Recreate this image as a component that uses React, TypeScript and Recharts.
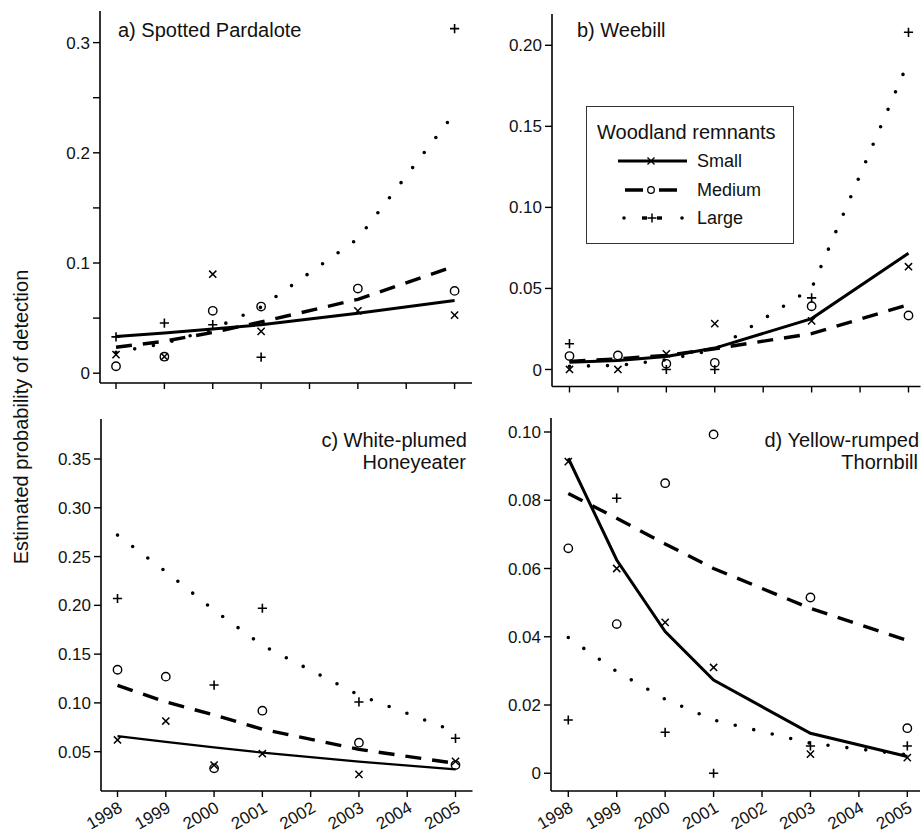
import { ComposedChart, Line, XAxis, YAxis } from "recharts";

// Four panels of detection probability by survey year, fitted lines + observed points.

const FONT = "'Liberation Sans', Arial, Helvetica, sans-serif";

const years = [1998, 1999, 2000, 2001, 2003, 2005];
const tickYears = [1998, 1999, 2000, 2001, 2002, 2003, 2004, 2005];

// a) Spotted Pardalote
const aSmallFit = [0.0334, 0.0365, 0.04, 0.044, 0.0545, 0.066];
const aMediumFit = [0.0235, 0.029, 0.037, 0.0465, 0.067, 0.097];
const aLargeFit = [0.019, 0.027, 0.04, 0.06, 0.122, 0.236];
const aSmallObs = [0.0169, 0.015, 0.0898, 0.038, 0.0566, 0.0527];
const aMediumObs = [0.0063, 0.015, 0.0566, 0.0605, 0.0768, 0.0747];
const aLargeObs = [0.033, 0.0455, 0.044, 0.0145, null, 0.3127];
const aYTicks = [0, 0.05, 0.1, 0.15, 0.2, 0.25, 0.3];
const aYLabels = ["0", "", "0.1", "", "0.2", "", "0.3"];

// b) Weebill
const bSmallFit = [0.0045, 0.0056, 0.008, 0.0132, 0.0314, 0.0717];
const bMediumFit = [0.005, 0.0066, 0.0087, 0.0128, 0.0221, 0.04];
const bLargeFit = [0.002, 0.0025, 0.006, 0.0122, 0.05, 0.19];
const bSmallObs = [0, 0, 0.0097, 0.0283, 0.03, 0.0634];
const bMediumObs = [0.0083, 0.0087, 0.0035, 0.0041, 0.039, 0.0333];
const bLargeObs = [0.0159, null, 0, 0, 0.0442, 0.208];
const bYTicks = [0, 0.05, 0.1, 0.15, 0.2];
const bYLabels = ["0", "0.05", "0.10", "0.15", "0.20"];

// c) White-plumed Honeyeater
const cSmallFit = [0.066, 0.06, 0.0544, 0.049, 0.0398, 0.0319];
const cMediumFit = [0.118, 0.101, 0.0876, 0.073, 0.0524, 0.038];
const cLargeFit = [0.272, 0.2345, 0.195, 0.159, 0.108, 0.0705];
const cSmallObs = [0.062, 0.0814, 0.0363, 0.0479, 0.0268, 0.04];
const cMediumObs = [0.134, 0.1269, 0.0329, 0.092, 0.0592, 0.0363];
const cLargeObs = [0.207, null, 0.1183, 0.197, 0.101, 0.0637];
const cYTicks = [0.05, 0.1, 0.15, 0.2, 0.25, 0.3, 0.35];
const cYLabels = ["0.05", "0.10", "0.15", "0.20", "0.25", "0.30", "0.35"];

// d) Yellow-rumped Thornbill
const dSmallFit = [0.0923, 0.0625, 0.0415, 0.0273, 0.0117, 0.0049];
const dMediumFit = [0.082, 0.0747, 0.0672, 0.06, 0.0483, 0.0389];
const dLargeFit = [0.0398, 0.0298, 0.0217, 0.0156, 0.0088, 0.0054];
const dSmallObs = [0.0913, 0.06, 0.0442, 0.031, 0.0056, 0.0046];
const dMediumObs = [0.0659, 0.0437, 0.085, 0.0993, 0.0515, 0.0132];
const dLargeObs = [0.0156, 0.0806, 0.012, 0, 0.008, 0.008];
const dYTicks = [0, 0.02, 0.04, 0.06, 0.08, 0.1];
const dYLabels = ["0", "0.02", "0.04", "0.06", "0.08", "0.10"];

const buildRows = (
  sf: number[], mf: number[], lf: number[],
  so: (number | null)[], mo: (number | null)[], lo: (number | null)[]
) =>
  years.map((year, i) => ({
    year,
    smallFit: sf[i],
    mediumFit: mf[i],
    largeFit: lf[i],
    smallObs: so[i],
    mediumObs: mo[i],
    largeObs: lo[i],
  }));

const crossDot = (props: any) => {
  const { cx, cy, value, index } = props;
  if (value == null || cx == null || cy == null) return <g key={`x${index}`} />;
  const s = 3.6;
  return (
    <path
      key={`x${index}`}
      d={`M${cx - s},${cy - s}L${cx + s},${cy + s}M${cx - s},${cy + s}L${cx + s},${cy - s}`}
      stroke="#000"
      strokeWidth={1.5}
      fill="none"
    />
  );
};

const circleDot = (props: any) => {
  const { cx, cy, value, index } = props;
  if (value == null || cx == null || cy == null) return <g key={`o${index}`} />;
  return <circle key={`o${index}`} cx={cx} cy={cy} r={4.2} stroke="#000" strokeWidth={1.4} fill="none" />;
};

const plusDot = (props: any) => {
  const { cx, cy, value, index } = props;
  if (value == null || cx == null || cy == null) return <g key={`p${index}`} />;
  const s = 4.6;
  return (
    <path
      key={`p${index}`}
      d={`M${cx - s},${cy}L${cx + s},${cy}M${cx},${cy - s}L${cx},${cy + s}`}
      stroke="#000"
      strokeWidth={1.6}
      fill="none"
    />
  );
};

const YearTick = (props: any) => {
  const { x, y, payload } = props;
  const ax = x + 6;
  const ay = y + 12;
  return (
    <text
      x={ax}
      y={ay}
      transform={`rotate(-30 ${ax} ${ay})`}
      textAnchor="end"
      fontSize={17}
      fontFamily={FONT}
      fill="#111"
    >
      {payload.value}
    </text>
  );
};

const NoTick = () => <g />;

interface PanelProps {
  rows: ReturnType<typeof buildRows>;
  left: number;
  top: number;
  right: number;
  bottom: number;
  xDomain: [number, number];
  yDomain: [number, number];
  yTicks: number[];
  yLabels: string[];
  showYears: boolean;
  thinSmall?: boolean;
}

function Panel(p: PanelProps) {
  const ML = 90;
  const MT = 10;
  const MR = 2;
  const MB = 41;
  const w = p.right - p.left;
  const h = p.bottom - p.top;
  return (
    <div style={{ position: "absolute", left: p.left - ML, top: p.top - MT }}>
      <ComposedChart
        width={w + ML + MR}
        height={h + MT + MB}
        data={p.rows}
        margin={{ top: MT, right: MR, left: 0, bottom: 0 }}
      >
        <XAxis
          type="number"
          dataKey="year"
          domain={p.xDomain}
          allowDataOverflow
          ticks={tickYears}
          interval={0}
          height={MB}
          tickSize={6}
          axisLine={{ stroke: "#000", strokeWidth: 1.6 }}
          tickLine={{ stroke: "#000", strokeWidth: 1.4 }}
          tick={p.showYears ? YearTick : NoTick}
        />
        <YAxis
          type="number"
          domain={p.yDomain}
          allowDataOverflow
          ticks={p.yTicks}
          interval={0}
          width={ML}
          tickSize={7}
          tickMargin={3}
          axisLine={{ stroke: "#000", strokeWidth: 1.6 }}
          tickLine={{ stroke: "#000", strokeWidth: 1.4 }}
          tick={{ fill: "#111", fontSize: 17, fontFamily: FONT }}
          tickFormatter={(v: number) => {
            const i = p.yTicks.findIndex((t) => Math.abs(t - v) < 1e-9);
            return i >= 0 ? p.yLabels[i] : "";
          }}
        />
        <Line type="linear" dataKey="largeFit" stroke="#000" strokeWidth={3.6} strokeDasharray="0 19" strokeLinecap="round" dot={false} activeDot={false} isAnimationActive={false} />
        <Line type="linear" dataKey="mediumFit" stroke="#000" strokeWidth={3.4} strokeDasharray="16 11" dot={false} activeDot={false} isAnimationActive={false} />
        <Line type="linear" dataKey="smallFit" stroke="#000" strokeWidth={p.thinSmall ? 2.2 : 3} dot={false} activeDot={false} isAnimationActive={false} />
        <Line dataKey="smallObs" stroke="none" dot={crossDot} activeDot={false} isAnimationActive={false} />
        <Line dataKey="mediumObs" stroke="none" dot={circleDot} activeDot={false} isAnimationActive={false} />
        <Line dataKey="largeObs" stroke="none" dot={plusDot} activeDot={false} isAnimationActive={false} />
      </ComposedChart>
    </div>
  );
}

function Overlay() {
  const t = { fontFamily: FONT, fill: "#111" };
  return (
    <svg width={921} height={832} style={{ position: "absolute", left: 0, top: 0, pointerEvents: "none" }}>
      <text {...t} fontSize={20} transform="translate(28 417) rotate(-90)" textAnchor="middle">
        Estimated probability of detection
      </text>
      <text {...t} fontSize={20} x={118} y={37}>a) Spotted Pardalote</text>
      <text {...t} fontSize={20} x={577} y={37}>b) Weebill</text>
      <text {...t} fontSize={20} x={467} y={447} textAnchor="end">c) White-plumed</text>
      <text {...t} fontSize={20} x={466} y={469} textAnchor="end">Honeyeater</text>
      <text {...t} fontSize={20} x={919} y={447} textAnchor="end">d) Yellow-rumped</text>
      <text {...t} fontSize={20} x={918} y={469} textAnchor="end">Thornbill</text>

      {/* legend */}
      <rect x={586.5} y={106.5} width={207} height={137} fill="#fff" stroke="#333" strokeWidth={1} />
      <text {...t} fontSize={20} x={597} y={139}>Woodland remnants</text>

      <line x1={618} y1={161} x2={687} y2={161} stroke="#000" strokeWidth={3} />
      <path d="M647.5,157.5L654.5,164.5M647.5,164.5L654.5,157.5" stroke="#000" strokeWidth={1.4} />
      <text {...t} fontSize={18} x={697} y={167}>Small</text>

      <line x1={625} y1={190} x2={677} y2={190} stroke="#000" strokeWidth={3.4} strokeDasharray="18 16" />
      <circle cx={651} cy={190} r={3.3} stroke="#000" strokeWidth={1.3} fill="#fff" />
      <text {...t} fontSize={18} x={697} y={196}>Medium</text>

      <circle cx={624} cy={218} r={1.8} fill="#000" />
      <line x1={642} y1={218} x2={647} y2={218} stroke="#000" strokeWidth={3.4} />
      <line x1={657} y1={218} x2={662} y2={218} stroke="#000" strokeWidth={3.4} />
      <path d="M647.5,218L656.5,218M652,213.5L652,222.5" stroke="#000" strokeWidth={1.5} />
      <circle cx={682} cy={218} r={1.8} fill="#000" />
      <text {...t} fontSize={18} x={697} y={224}>Large</text>
    </svg>
  );
}

export default function App() {
  const aRows = buildRows(aSmallFit, aMediumFit, aLargeFit, aSmallObs, aMediumObs, aLargeObs);
  const bRows = buildRows(bSmallFit, bMediumFit, bLargeFit, bSmallObs, bMediumObs, bLargeObs);
  const cRows = buildRows(cSmallFit, cMediumFit, cLargeFit, cSmallObs, cMediumObs, cLargeObs);
  const dRows = buildRows(dSmallFit, dMediumFit, dLargeFit, dSmallObs, dMediumObs, dLargeObs);

  return (
    <div
      style={{
        position: "absolute",
        left: 0,
        top: 0,
        width: 921,
        height: 832,
        overflow: "hidden",
        background: "#fff",
        fontFamily: FONT,
      }}
    >
      <Panel
        rows={aRows}
        left={100}
        top={10.5}
        right={472}
        bottom={382.5}
        xDomain={[1997.669, 2005.36]}
        yDomain={[-0.0089, 0.3287]}
        yTicks={aYTicks}
        yLabels={aYLabels}
        showYears={false}
      />
      <Panel
        rows={bRows}
        left={551.5}
        top={14}
        right={920}
        bottom={386.5}
        xDomain={[1997.639, 2005.248]}
        yDomain={[-0.0105, 0.2193]}
        yTicks={bYTicks}
        yLabels={bYLabels}
        showYears={false}
      />
      <Panel
        rows={cRows}
        left={100.5}
        top={419}
        right={472}
        bottom={791}
        xDomain={[1997.658, 2005.352]}
        yDomain={[0.0097, 0.391]}
        yTicks={cYTicks}
        yLabels={cYLabels}
        showYears={true}
        thinSmall
      />
      <Panel
        rows={dRows}
        left={551}
        top={418}
        right={920}
        bottom={791}
        xDomain={[1997.643, 2005.262]}
        yDomain={[-0.0052, 0.1041]}
        yTicks={dYTicks}
        yLabels={dYLabels}
        showYears={true}
      />
      <Overlay />
    </div>
  );
}
